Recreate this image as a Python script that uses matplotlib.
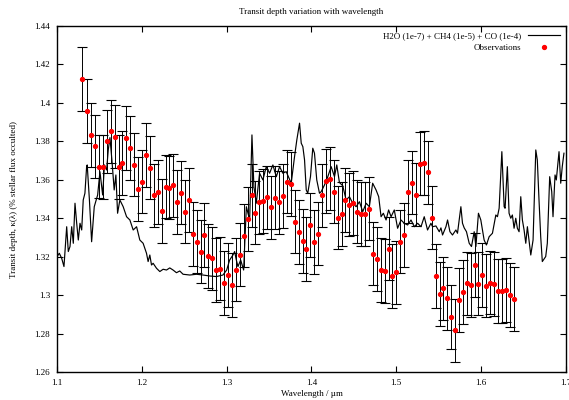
import numpy as np
import matplotlib
matplotlib.use('Agg')
import matplotlib.pyplot as plt

# Model spectrum
model_wl = [1.1000, 1.1027, 1.1055, 1.1082, 1.1114, 1.1133, 1.1153, 1.1173, 1.1192, 1.1212,
            1.1232, 1.1251, 1.1271, 1.1291, 1.1309, 1.1329, 1.1349, 1.1356, 1.1382, 1.1408,
            1.1439, 1.1479, 1.1506, 1.1538, 1.1559, 1.1585, 1.1604, 1.1624, 1.1647, 1.1674,
            1.1694, 1.1714, 1.1741, 1.1780, 1.1820, 1.1859, 1.1898, 1.1938, 1.1976, 1.2015,
            1.2055, 1.2074, 1.2094, 1.2114, 1.2133, 1.2173, 1.2212, 1.2251, 1.2291, 1.2329,
            1.2368, 1.2408, 1.2447, 1.2486, 1.2565, 1.2644, 1.2721, 1.2800, 1.2879, 1.2956,
            1.3000, 1.3035, 1.3074, 1.3094, 1.3114, 1.3133, 1.3165, 1.3200, 1.3232, 1.3271,
            1.3298, 1.3321, 1.3349, 1.3388, 1.3427, 1.3467, 1.3506, 1.3545, 1.3585, 1.3624,
            1.3662, 1.3702, 1.3761, 1.3800, 1.3827, 1.3859, 1.3879, 1.3898, 1.3918, 1.3938,
            1.3956, 1.3988, 1.4015, 1.4035, 1.4062, 1.4094, 1.4114, 1.4153, 1.4192, 1.4232,
            1.4271, 1.4298, 1.4329, 1.4368, 1.4408, 1.4447, 1.4486, 1.4526, 1.4565, 1.4604,
            1.4644, 1.4682, 1.4721, 1.4761, 1.4792, 1.4820, 1.4847, 1.4879, 1.4909, 1.4938,
            1.4976, 1.5015, 1.5055, 1.5094, 1.5133, 1.5173, 1.5212, 1.5251, 1.5291, 1.5329,
            1.5368, 1.5408, 1.5427, 1.5467, 1.5506, 1.5526, 1.5545, 1.5585, 1.5604, 1.5632,
            1.5662, 1.5702, 1.5721, 1.5761, 1.5780, 1.5800, 1.5827, 1.5859, 1.5886, 1.5918,
            1.5938, 1.5968, 1.5996, 1.6035, 1.6062, 1.6094, 1.6133, 1.6173, 1.6192, 1.6212,
            1.6244, 1.6271, 1.6282, 1.6309, 1.6329, 1.6349, 1.6368, 1.6388, 1.6408, 1.6427,
            1.6447, 1.6467, 1.6486, 1.6506, 1.6526, 1.6545, 1.6585, 1.6612, 1.6644, 1.6662,
            1.6682, 1.6702, 1.6721, 1.6761, 1.6780, 1.6808, 1.6832, 1.6847, 1.6871, 1.6886,
            1.6918, 1.6938, 1.6956, 1.6976]
model_depth = [1.3202, 1.3219, 1.3193, 1.3150, 1.3357, 1.3228, 1.3254, 1.3357, 1.3271, 1.3479,
               1.3375, 1.3288, 1.3375, 1.3340, 1.3496, 1.3531, 1.3669, 1.3678, 1.3496, 1.3279,
               1.3461, 1.3522, 1.3643, 1.3522, 1.3678, 1.3652, 1.3756, 1.3820, 1.3704, 1.3548,
               1.3626, 1.3427, 1.3496, 1.3461, 1.3409, 1.3392, 1.3340, 1.3357, 1.3288, 1.3271,
               1.3219, 1.3176, 1.3210, 1.3158, 1.3167, 1.3141, 1.3124, 1.3136, 1.3132, 1.3143,
               1.3132, 1.3118, 1.3127, 1.3110, 1.3106, 1.3110, 1.3106, 1.3101, 1.3098, 1.3106,
               1.3132, 1.3184, 1.3210, 1.3228, 1.3184, 1.3150, 1.3184, 1.3132, 1.3461, 1.3392,
               1.3834, 1.3565, 1.3479, 1.3635, 1.3600, 1.3669, 1.3635, 1.3678, 1.3617, 1.3669,
               1.3635, 1.3643, 1.3583, 1.3721, 1.3808, 1.3895, 1.3791, 1.3773, 1.3704, 1.3548,
               1.3531, 1.3617, 1.3765, 1.3739, 1.3600, 1.3531, 1.3539, 1.3574, 1.3617, 1.3669,
               1.3617, 1.3678, 1.3587, 1.3570, 1.3496, 1.3513, 1.3479, 1.3461, 1.3487, 1.3435,
               1.3479, 1.3461, 1.3583, 1.3548, 1.3513, 1.3409, 1.3427, 1.3392, 1.3444, 1.3409,
               1.3444, 1.3349, 1.3392, 1.3375, 1.3366, 1.3392, 1.3357, 1.3375, 1.3357, 1.3409,
               1.3340, 1.3375, 1.3357, 1.3361, 1.3331, 1.3351, 1.3314, 1.3357, 1.3392, 1.3331,
               1.3314, 1.3340, 1.3323, 1.3461, 1.3375, 1.3351, 1.3331, 1.3271, 1.3254, 1.3331,
               1.3254, 1.3427, 1.3392, 1.3288, 1.3262, 1.3305, 1.3323, 1.3418, 1.3409, 1.3453,
               1.3747, 1.3461, 1.3453, 1.3669, 1.3427, 1.3401, 1.3418, 1.3349, 1.3401, 1.3349,
               1.3331, 1.3513, 1.3392, 1.3340, 1.3271, 1.3357, 1.3210, 1.3288, 1.3756, 1.3704,
               1.3496, 1.3305, 1.3176, 1.3202, 1.3271, 1.3617, 1.3539, 1.3409, 1.3626, 1.3600,
               1.3747, 1.3583, 1.3669, 1.3739]

# Observations
obs_wl = [1.1300, 1.1353, 1.1396, 1.1443, 1.1490, 1.1537, 1.1585, 1.1632, 1.1679, 1.1726,
          1.1769, 1.1816, 1.1863, 1.1910, 1.1953, 1.2000, 1.2047, 1.2094, 1.2141, 1.2185,
          1.2232, 1.2279, 1.2318, 1.2368, 1.2415, 1.2462, 1.2510, 1.2553, 1.2600, 1.2647,
          1.2694, 1.2738, 1.2785, 1.2832, 1.2879, 1.2921, 1.2968, 1.3015, 1.3062, 1.3106,
          1.3153, 1.3200, 1.3247, 1.3294, 1.3338, 1.3385, 1.3432, 1.3479, 1.3526, 1.3573,
          1.3615, 1.3662, 1.3709, 1.3756, 1.3804, 1.3847, 1.3894, 1.3941, 1.3985, 1.4032,
          1.4079, 1.4126, 1.4173, 1.4215, 1.4262, 1.4309, 1.4356, 1.4400, 1.4447, 1.4490,
          1.4538, 1.4585, 1.4632, 1.4679, 1.4722, 1.4769, 1.4816, 1.4863, 1.4910, 1.4953,
          1.5000, 1.5047, 1.5094, 1.5141, 1.5185, 1.5232, 1.5279, 1.5326, 1.5368, 1.5415,
          1.5462, 1.5509, 1.5553, 1.5600, 1.5647, 1.5694, 1.5738, 1.5785, 1.5832, 1.5879,
          1.5926, 1.5968, 1.6015, 1.6062, 1.6109, 1.6156, 1.6200, 1.6247, 1.6294, 1.6341,
          1.6388]
obs_depth = [1.4124, 1.3957, 1.3834, 1.3775, 1.3669, 1.3668, 1.3800, 1.3853, 1.3825, 1.3668,
             1.3687, 1.3817, 1.3765, 1.3680, 1.3552, 1.3591, 1.3730, 1.3664, 1.3520, 1.3538,
             1.3439, 1.3565, 1.3560, 1.3572, 1.3486, 1.3534, 1.3435, 1.3496, 1.3318, 1.3280,
             1.3228, 1.3314, 1.3205, 1.3193, 1.3132, 1.3139, 1.3065, 1.3106, 1.3053, 1.3134,
             1.3212, 1.3311, 1.3396, 1.3520, 1.3430, 1.3484, 1.3491, 1.3510, 1.3458, 1.3508,
             1.3484, 1.3517, 1.3591, 1.3578, 1.3383, 1.3330, 1.3283, 1.3240, 1.3365, 1.3278,
             1.3321, 1.3520, 1.3595, 1.3607, 1.3539, 1.3404, 1.3422, 1.3496, 1.3472, 1.3479,
             1.3435, 1.3423, 1.3423, 1.3451, 1.3217, 1.3188, 1.3132, 1.3127, 1.3243, 1.3101,
             1.3120, 1.3279, 1.3314, 1.3539, 1.3586, 1.3524, 1.3685, 1.3688, 1.3640, 1.3404,
             1.3100, 1.3008, 1.3037, 1.2985, 1.2888, 1.2819, 1.2975, 1.3018, 1.3063, 1.3055,
             1.3157, 1.3061, 1.3105, 1.3051, 1.3067, 1.3060, 1.3023, 1.3023, 1.3027, 1.3003,
             1.2982]
obs_err = [0.0167, 0.0165, 0.0165, 0.0165, 0.0165, 0.0165, 0.0165, 0.0165, 0.0165, 0.0165,
           0.0165, 0.0165, 0.0165, 0.0165, 0.0165, 0.0165, 0.0165, 0.0165, 0.0165, 0.0165,
           0.0165, 0.0165, 0.0165, 0.0165, 0.0165, 0.0165, 0.0165, 0.0165, 0.0165, 0.0165,
           0.0165, 0.0165, 0.0165, 0.0165, 0.0165, 0.0165, 0.0165, 0.0165, 0.0165, 0.0165,
           0.0165, 0.0165, 0.0165, 0.0165, 0.0165, 0.0165, 0.0165, 0.0165, 0.0165, 0.0165,
           0.0165, 0.0165, 0.0165, 0.0165, 0.0165, 0.0165, 0.0165, 0.0165, 0.0165, 0.0165,
           0.0165, 0.0165, 0.0165, 0.0165, 0.0165, 0.0165, 0.0165, 0.0165, 0.0165, 0.0165,
           0.0165, 0.0165, 0.0165, 0.0165, 0.0165, 0.0165, 0.0165, 0.0165, 0.0165, 0.0165,
           0.0165, 0.0165, 0.0165, 0.0165, 0.0165, 0.0165, 0.0165, 0.0165, 0.0165, 0.0165,
           0.0165, 0.0165, 0.0165, 0.0165, 0.0165, 0.0165, 0.0165, 0.0165, 0.0165, 0.0165,
           0.0165, 0.0165, 0.0165, 0.0165, 0.0165, 0.0165, 0.0165, 0.0165, 0.0165, 0.0165,
           0.0165]

x_ticks = [1.1, 1.2, 1.3, 1.4, 1.5, 1.6, 1.7]
x_labels = ['1.1', '1.2', '1.3', '1.4', '1.5', '1.6', '1.7']
y_ticks = [1.26, 1.28, 1.30, 1.32, 1.34, 1.36, 1.38, 1.40, 1.42, 1.44]
y_labels = ['1.26', '1.28', '1.3', '1.32', '1.34', '1.36', '1.38', '1.4', '1.42', '1.44']

plt.rcParams['font.family'] = ['Liberation Serif', 'DejaVu Serif']
plt.rcParams['font.size'] = 6.5

fig = plt.figure(figsize=(5.69, 4.0), dpi=100)
ax = fig.add_axes([0.1002, 0.069, 0.8945, 0.866])

ax.plot(model_wl, model_depth, color='black', lw=0.85,
        label='H2O (1e-7) + CH4 (1e-5) + CO (1e-4)', zorder=2)
ax.errorbar(obs_wl, obs_depth, yerr=obs_err, fmt='none', ecolor='black',
            elinewidth=0.7, capsize=3.6, capthick=0.8, zorder=3)
ax.plot(obs_wl, obs_depth, 'o', color='red', markersize=2.8, mec='red',
        label='Observations', zorder=4, linestyle='none')

ax.set_xlim(1.1, 1.7)
ax.set_ylim(1.26, 1.44)
ax.set_xticks(x_ticks)
ax.set_xticklabels(x_labels)
ax.set_yticks(y_ticks)
ax.set_yticklabels(y_labels)
ax.tick_params(direction='in', top=True, right=True, length=4, width=0.8, labelsize=6.5, pad=5)
for s in ax.spines.values():
    s.set_linewidth(1.0)

ax.set_title('Transit depth variation with wavelength', fontsize=6.5, pad=9)
ax.set_xlabel('Wavelength / \u00b5m', fontsize=6.5, labelpad=2)
ax.set_ylabel('Transit depth, \u03ba(\u03bb) (% stellar flux occulted)', fontsize=6.5, labelpad=12)

leg = ax.legend(loc='upper right', frameon=False, markerfirst=False, fontsize=6.5,
                handlelength=3.5, borderaxespad=0.3, labelspacing=0.3)

fig.savefig('out.png', dpi=100)
